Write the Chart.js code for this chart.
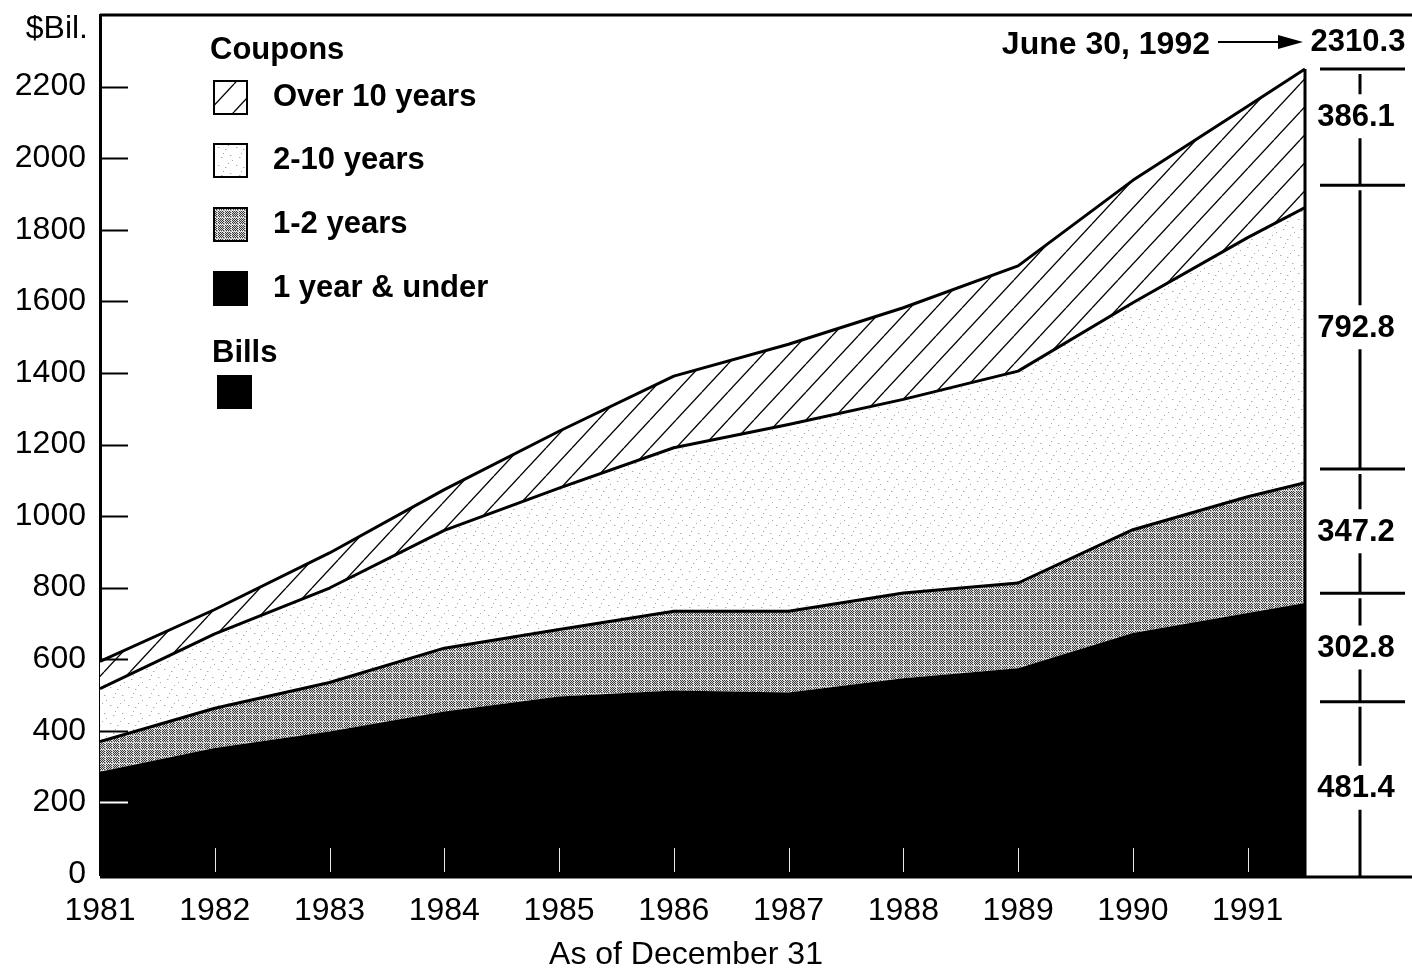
<!DOCTYPE html>
<html>
<head>
<meta charset="utf-8">
<script src="https://cdn.jsdelivr.net/npm/chart.js@4/dist/chart.umd.min.js"></script>
<style>
  body { margin: 0; background: #fff; }
  canvas { display: block; }
</style>
</head>
<body>
<canvas id="chart" width="1412" height="971"></canvas>
<script>
// year-end values, last point is June 30, 1992 ($ billions)
const years = [1981, 1982, 1983, 1984, 1985, 1986, 1987, 1988, 1989, 1990, 1991, 1991.5];
// bills and 1 year & under coupons are both solid black in the original, so one series
const billsAndShort = [286, 352, 398, 454, 496, 513, 507, 547, 575, 673, 729, 757];
const coupon1to2 = [84, 111, 137, 177, 187, 221, 227, 238, 238, 289, 325, 336];
const coupon2to10 = [148, 208, 264, 329, 395, 457, 522, 541, 592, 634, 724, 769];
const couponOver10 = [76, 68, 98, 114, 159, 200, 224, 256, 294, 342, 367, 387];

// the bracket on the right: June 30, 1992 breakdown, bottom to top
const bracketLabels = ['481.4', '302.8', '347.2', '792.8', '386.1'];
const bracketValues = [481.4, 302.8, 347.2, 792.8, 386.1];
const bracketTotal = '2310.3';
const bracketDate = 'June 30, 1992';

const FONT = "'Liberation Sans', Arial, Helvetica, sans-serif";

function makeHatch() {
    const c = document.createElement('canvas');
    const w = 26, h = 28;
    c.width = w; c.height = h;
    const g = c.getContext('2d');
    g.fillStyle = '#fff';
    g.fillRect(0, 0, w, h);
    g.strokeStyle = '#000';
    g.lineWidth = 1.3;
    for (let k = -1; k <= 1; k++) {
        g.beginPath();
        g.moveTo(k * w, h);
        g.lineTo(k * w + w, 0);
        g.stroke();
    }
    return g.createPattern(c, 'repeat');
}

function makeDots() {
    const c = document.createElement('canvas');
    c.width = 18; c.height = 18;
    const g = c.getContext('2d');
    g.fillStyle = '#fff';
    g.fillRect(0, 0, 18, 18);
    g.fillStyle = '#aaa';
    [[2, 3], [9, 5], [14, 11], [5, 13], [12, 1], [7, 9], [16, 16]].forEach(function(p) {
        g.fillRect(p[0], p[1], 1, 1);
    });
    g.fillStyle = '#ddd';
    [[3, 3], [10, 5], [6, 13], [15, 11]].forEach(function(p) {
        g.fillRect(p[0], p[1], 1, 1);
    });
    return g.createPattern(c, 'repeat');
}

function makeStipple() {
    const c = document.createElement('canvas');
    const n = 7;
    c.width = n; c.height = n;
    const g = c.getContext('2d');
    for (let y = 0; y < n; y++) {
        for (let x = 0; x < n; x++) {
            let dark = (x + y) % 2 === 0;
            if (x === 0 || y === 0) {
                g.fillStyle = dark ? '#b0b0b0' : '#f8f8f8';
            } else {
                g.fillStyle = dark ? '#383838' : '#d6d6d6';
            }
            g.fillRect(x, y, 1, 1);
        }
    }
    return g.createPattern(c, 'repeat');
}

const hatch = makeHatch();
const dots = makeDots();
const stipple = makeStipple();

function pts(arr) {
    return arr.map(function(v, i) { return { x: years[i], y: v }; });
}

// frame, inside ticks, legend and the right-hand bracket
const extras = {
    id: 'extras',
    afterDatasetsDraw(chart) {
        const ctx = chart.ctx;
        const a = chart.chartArea;
        const xs = chart.scales.x;
        const ys = chart.scales.y;
        const W = chart.width;
        ctx.save();

        // inside tick marks
        ys.ticks.forEach(function(t) {
            if (t.value <= 0 || t.value >= ys.max) return;
            const y = Math.round(ys.getPixelForValue(t.value)) + 0.5;
            ctx.strokeStyle = t.value < billsAndShort[0] ? '#fff' : '#000';
            ctx.lineWidth = 2;
            ctx.beginPath();
            ctx.moveTo(a.left, y);
            ctx.lineTo(a.left + 28, y);
            ctx.stroke();
        });
        xs.ticks.forEach(function(t) {
            if (t.value <= xs.min || !Number.isInteger(t.value)) return;
            const x = Math.round(xs.getPixelForValue(t.value)) + 0.5;
            ctx.strokeStyle = '#e8e8e8';
            ctx.lineWidth = 1;
            ctx.beginPath();
            ctx.moveTo(x, a.bottom - 2);
            ctx.lineTo(x, a.bottom - 26);
            ctx.stroke();
        });

        // frame lines
        const last = years.length - 1;
        const xEnd = xs.getPixelForValue(years[last]);
        const totalEnd = billsAndShort[last] + coupon1to2[last] + coupon2to10[last] + couponOver10[last];
        const yTop = ys.getPixelForValue(totalEnd);
        ctx.strokeStyle = '#000';
        ctx.lineWidth = 3;
        ctx.beginPath();
        ctx.moveTo(a.left, a.top);
        ctx.lineTo(W, a.top);
        ctx.moveTo(a.left, a.bottom + 3);
        ctx.lineTo(W, a.bottom + 3);
        ctx.moveTo(xEnd, yTop);
        ctx.lineTo(xEnd, a.bottom + 3);
        ctx.stroke();

        // $Bil. and the x title
        ctx.fillStyle = '#000';
        ctx.font = '32px ' + FONT;
        ctx.textAlign = 'right';
        ctx.textBaseline = 'middle';
        ctx.fillText('$Bil.', 88, 29);
        ctx.textAlign = 'center';
        ctx.fillText('As of December 31', 686, 955);

        // legend
        const lx = 213;
        ctx.textAlign = 'left';
        ctx.font = 'bold 31px ' + FONT;
        ctx.fillText('Coupons', 210, 50);
        const items = [
            { label: 'Over 10 years', fill: hatch, y: 80 },
            { label: '2-10 years', fill: dots, y: 143 },
            { label: '1-2 years', fill: stipple, y: 207 },
            { label: '1 year & under', fill: '#000', y: 271 }
        ];
        items.forEach(function(it) {
            ctx.fillStyle = it.fill;
            ctx.fillRect(lx, it.y, 35, 35);
            ctx.strokeStyle = '#000';
            ctx.lineWidth = 2;
            ctx.strokeRect(lx + 1, it.y + 1, 33, 33);
            ctx.fillStyle = '#000';
            ctx.fillText(it.label, 273, it.y + 17);
        });
        ctx.fillText('Bills', 212, 353);
        ctx.fillRect(217, 375, 35, 34);

        // date + arrow + total
        ctx.font = 'bold 32px ' + FONT;
        ctx.textAlign = 'right';
        ctx.fillText(bracketDate, 1210, 45);
        ctx.lineWidth = 2;
        ctx.beginPath();
        ctx.moveTo(1218, 42);
        ctx.lineTo(1282, 42);
        ctx.stroke();
        ctx.beginPath();
        ctx.moveTo(1303, 42);
        ctx.lineTo(1278, 35);
        ctx.lineTo(1278, 49);
        ctx.closePath();
        ctx.fill();
        ctx.textAlign = 'center';
        ctx.font = 'bold 31px ' + FONT;
        ctx.fillText(bracketTotal, 1358, 42);

        // bracket: lines at the chart's own top, labels centred on the stated amounts
        const bx = xEnd + 55;
        let cum = 0;
        const edges = [a.bottom + 3];
        const mids = [];
        bracketValues.forEach(function(v, i) {
            mids.push(ys.getPixelForValue(cum + v / 2));
            cum += v;
            edges.push(i === bracketValues.length - 1 ? yTop : ys.getPixelForValue(cum));
        });
        ctx.lineWidth = 3;
        for (let i = 1; i < edges.length; i++) {
            ctx.beginPath();
            ctx.moveTo(xEnd + 15, edges[i]);
            ctx.lineTo(xEnd + 100, edges[i]);
            ctx.stroke();
        }
        for (let i = 0; i < bracketLabels.length; i++) {
            const lo = edges[i], hi = edges[i + 1];
            const mid = mids[i];
            ctx.beginPath();
            ctx.moveTo(bx, lo);
            ctx.lineTo(bx, mid + 22);
            ctx.moveTo(bx, mid - 22);
            ctx.lineTo(bx, hi + 5);
            ctx.stroke();
            ctx.fillText(bracketLabels[i], bx - 4, mid + 1);
        }
        ctx.restore();
    }
};

new Chart(document.getElementById('chart'), {
    type: 'line',
    data: {
        datasets: [
            {
                label: 'Bills + 1 year & under',
                data: pts(billsAndShort),
                backgroundColor: '#000',
                borderWidth: 0,
                fill: 'origin'
            },
            {
                label: '1-2 years',
                data: pts(coupon1to2),
                backgroundColor: stipple,
                borderColor: '#000',
                borderWidth: 3,
                fill: '-1'
            },
            {
                label: '2-10 years',
                data: pts(coupon2to10),
                backgroundColor: dots,
                borderColor: '#000',
                borderWidth: 3,
                fill: '-1'
            },
            {
                label: 'Over 10 years',
                data: pts(couponOver10),
                backgroundColor: hatch,
                borderColor: '#000',
                borderWidth: 3,
                fill: '-1'
            }
        ]
    },
    options: {
        responsive: false,
        animation: false,
        layout: { padding: { top: 15, right: 107, left: 0, bottom: 0 } },
        elements: {
            point: { radius: 0 },
            line: { tension: 0, borderJoinStyle: 'round' }
        },
        plugins: {
            legend: { display: false },
            tooltip: { enabled: false }
        },
        scales: {
            x: {
                type: 'linear',
                min: years[0],
                max: years[years.length - 1],
                grid: { display: false, drawTicks: false },
                border: { display: true, color: '#000', width: 3 },
                ticks: {
                    stepSize: 1,
                    includeBounds: false,
                    autoSkip: false,
                    maxRotation: 0,
                    padding: 18,
                    color: '#000',
                    font: { family: FONT, size: 32 },
                    callback: function(v) { return Number.isInteger(v) ? String(v) : ''; }
                },
                afterFit: function(s) {
                    s.height = 97;
                    s.paddingLeft = 0;
                    s.paddingRight = 0;
                }
            },
            y: {
                stacked: true,
                min: 0,
                max: 2400,
                grid: { display: false, drawTicks: false },
                border: { display: true, color: '#000', width: 3 },
                ticks: {
                    stepSize: 200,
                    padding: 14,
                    color: '#000',
                    font: { family: FONT, size: 32 },
                    callback: function(v) { return v >= 2400 ? '' : String(v); }
                },
                afterFit: function(s) {
                    s.width = 100;
                    s.paddingTop = 0;
                    s.paddingBottom = 0;
                }
            }
        }
    },
    plugins: [extras]
});
</script>
</body>
</html>
